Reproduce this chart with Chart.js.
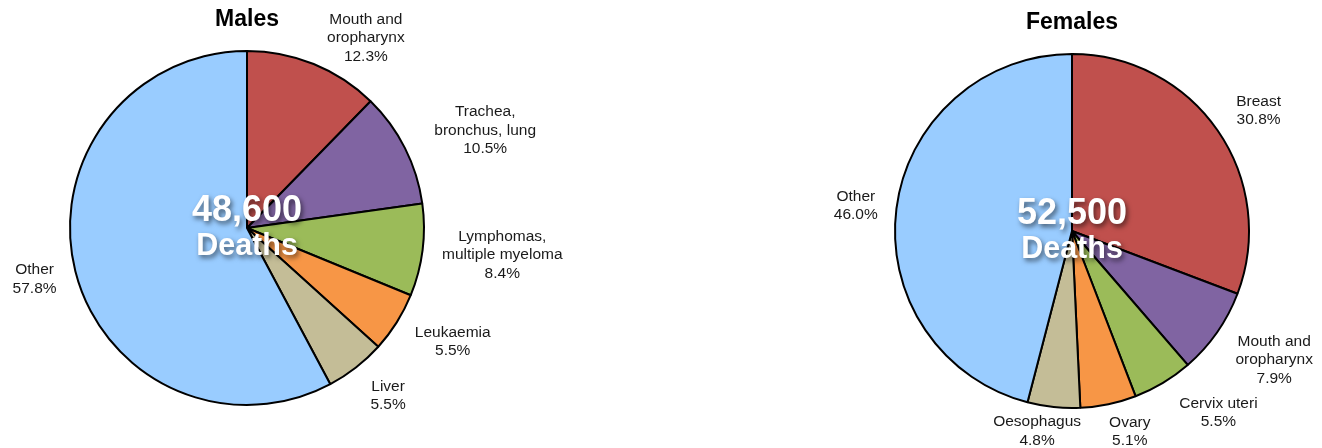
<!DOCTYPE html>
<html lang="en">
<head>
  <meta charset="UTF-8">
  <title>Cancer deaths by site</title>
  <script src="https://cdn.jsdelivr.net/npm/chart.js"></script>
  <style>
    body { margin: 0; background: #fff; }
    .wrap { position: relative; width: 1322px; height: 448px; }
    canvas { position: absolute; top: 0; }
    #malesChart { left: 0; }
    #femalesChart { left: 661px; }
  </style>
</head>
<body>
  <div class="wrap">
    <canvas id="malesChart" width="661" height="448"></canvas>
    <canvas id="femalesChart" width="661" height="448"></canvas>
  </div>

  <script>
    // data
    var maleLabels = [['Mouth and', 'oropharynx'], ['Trachea,', 'bronchus, lung'], ['Lymphomas,', 'multiple myeloma'], ['Leukaemia'], ['Liver'], ['Other']];
    var maleValues = [12.3, 10.5, 8.4, 5.5, 5.5, 57.8];
    var maleTotal = '48,600';

    var femaleLabels = [['Breast'], ['Mouth and', 'oropharynx'], ['Cervix uteri'], ['Ovary'], ['Oesophagus'], ['Other']];
    var femaleValues = [30.8, 7.9, 5.5, 5.1, 4.8, 46.0];
    var femaleTotal = '52,500';

    var sliceColors = ['#C0504D', '#8064A2', '#9BBB59', '#F79646', '#C4BD97', '#99CCFF'];

    // small hand tweaks so labels sit where the original put them
    var maleNudge = [[30, 18], [17, 4], [0, -1], [7, -1], [9, -2], [0, -1]];
    var femaleNudge = [[6, 2], [9, 0], [25, -3], [13, -10], [-10, -14], [1, 2]];

    var FONT = '"Liberation Sans", Arial, Helvetica, sans-serif';

    var piePainter = {
      id: 'piePainter',
      afterDatasetsDraw: function(chart, args, opts) {
        var ctx = chart.ctx;
        var arcs = chart.getDatasetMeta(0).data;
        var values = chart.data.datasets[0].data;
        var cx = arcs[0].x, cy = arcs[0].y, R = arcs[0].outerRadius;

        // title
        ctx.save();
        ctx.fillStyle = '#000';
        ctx.font = 'bold 23px ' + FONT;
        ctx.textAlign = 'center';
        ctx.textBaseline = 'alphabetic';
        ctx.fillText(opts.title, cx, chart.chartArea.top - 24);
        ctx.restore();

        // slice labels
        var lh = 18.5;
        ctx.save();
        ctx.font = '15.5px ' + FONT;
        ctx.fillStyle = '#1a1a1a';
        ctx.textAlign = 'center';
        ctx.textBaseline = 'middle';
        arcs.forEach(function(arc, i) {
          var lines = opts.labels[i].concat([values[i].toFixed(1) + '%']);
          var w = 0;
          lines.forEach(function(l) { w = Math.max(w, ctx.measureText(l).width); });
          var h = lines.length * lh;
          var mid = (arc.startAngle + arc.endAngle) / 2;
          var dx = Math.cos(mid), dy = Math.sin(mid);
          var ax = cx + (R + 20) * dx, ay = cy + (R + 20) * dy;
          var bx = ax + dx * w / 2 + opts.nudge[i][0];
          var by = ay + dy * h / 2 + opts.nudge[i][1];
          lines.forEach(function(l, k) {
            ctx.fillText(l, bx, by - h / 2 + lh * (k + 0.5));
          });
        });
        ctx.restore();

        // centre text
        ctx.save();
        ctx.fillStyle = '#fff';
        ctx.textAlign = 'center';
        ctx.textBaseline = 'alphabetic';
        ctx.shadowColor = 'rgba(0,0,0,0.55)';
        ctx.shadowOffsetX = 2;
        ctx.shadowOffsetY = 3;
        ctx.shadowBlur = 5;
        ctx.font = 'bold 36px ' + FONT;
        ctx.fillText(opts.total, cx, cy - 7);
        ctx.font = 'bold 30.5px ' + FONT;
        ctx.fillText('Deaths', cx, cy + 27);
        ctx.restore();
      }
    };

    function makePie(id, labels, values, total, title, nudge, padding) {
      return new Chart(document.getElementById(id).getContext('2d'), {
        type: 'pie',
        data: {
          labels: labels.map(function(l) { return l.join(' '); }),
          datasets: [{
            data: values,
            backgroundColor: sliceColors,
            borderColor: '#000',
            borderWidth: 2
          }]
        },
        options: {
          responsive: false,
          animation: false,
          devicePixelRatio: 1,
          layout: { padding: padding },
          plugins: {
            legend: { display: false },
            tooltip: { enabled: false },
            piePainter: { labels: labels, total: total, title: title, nudge: nudge }
          }
        },
        plugins: [piePainter]
      });
    }

    makePie('malesChart', maleLabels, maleValues, maleTotal, 'Males', maleNudge,
      { left: 69, right: 236, top: 50, bottom: 42 });
    makePie('femalesChart', femaleLabels, femaleValues, femaleTotal, 'Females', femaleNudge,
      { left: 233, right: 72, top: 53, bottom: 39 });
  </script>
</body>
</html>
